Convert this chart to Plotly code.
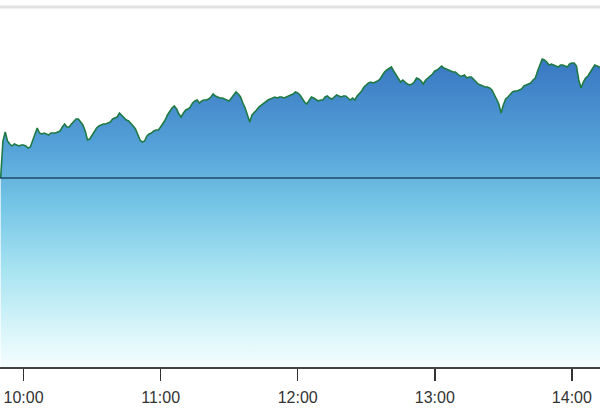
import pandas as pd
import plotly.graph_objects as go

# Intraday index level, one reading per minute starting 09:50
start_time = "2024-01-02 09:50"
prev_close = 2000
prices = [
    2000, 2037, 2046, 2037, 2034, 2032, 2034, 2033, 2032, 2033,
    2033, 2032, 2030, 2031, 2037, 2044, 2050, 2045, 2044, 2045,
    2044, 2043, 2045, 2045, 2045, 2046, 2047, 2051, 2054, 2051,
    2051, 2054, 2057, 2059, 2059, 2056, 2053, 2047, 2038, 2039,
    2043, 2047, 2050, 2052, 2053, 2054, 2054, 2055, 2056, 2059,
    2060, 2061, 2065, 2063, 2060, 2058, 2057, 2055, 2052, 2049,
    2043, 2038, 2036, 2037, 2042, 2044, 2045, 2047, 2048, 2048,
    2051, 2054, 2058, 2063, 2067, 2070, 2072, 2069, 2064, 2061,
    2065, 2068, 2069, 2071, 2075, 2077, 2078, 2075, 2077, 2078,
    2078, 2079, 2081, 2084, 2082, 2081, 2080, 2080, 2079, 2078,
    2077, 2080, 2083, 2086, 2084, 2081, 2075, 2070, 2063, 2056,
    2063, 2065, 2068, 2071, 2073, 2075, 2077, 2078, 2079, 2080,
    2081, 2080, 2081, 2081, 2080, 2081, 2082, 2083, 2084, 2086,
    2085, 2083, 2079, 2076, 2074, 2078, 2081, 2080, 2078, 2077,
    2078, 2078, 2081, 2082, 2080, 2079, 2081, 2083, 2082, 2081,
    2082, 2082, 2080, 2078, 2080, 2078, 2082, 2084, 2087, 2091,
    2093, 2095, 2096, 2095, 2096, 2097, 2099, 2103, 2106, 2108,
    2110, 2111, 2107, 2103, 2099, 2096, 2098, 2096, 2094, 2093,
    2094, 2096, 2100, 2099, 2097, 2094, 2098, 2100, 2102, 2104,
    2107, 2108, 2110, 2112, 2110, 2109, 2108, 2107, 2106, 2106,
    2104, 2102, 2102, 2103, 2100, 2101, 2101, 2099, 2096, 2094,
    2093, 2092, 2091, 2091, 2090, 2088, 2084, 2079, 2074, 2065,
    2073, 2079, 2081, 2084, 2086, 2087, 2087, 2088, 2089, 2092,
    2093, 2094, 2095, 2098, 2100, 2107, 2114, 2119, 2118, 2116,
    2113, 2114, 2113, 2112, 2111, 2113, 2113, 2112, 2111, 2114,
    2115, 2115, 2112, 2098, 2090, 2096, 2100, 2102, 2106, 2110,
    2113, 2112, 2111, 2111,
]
times = pd.date_range(start_time, periods=len(prices), freq="1min")

x_range = ["2024-01-02 09:49:43", "2024-01-02 14:12:18"]
y_range = [1811, 2178]
tick_start = "2024-01-02 10:00"

fig = go.Figure()
fig.add_trace(go.Scatter(
    x=times, y=prices, mode="lines",
    line=dict(color="#1e7a44", width=1.6),
    fill="tozeroy",
    fillgradient=dict(
        type="vertical",
        start=y_range[0], stop=y_range[1],
        colorscale=[
            [0.0, "#f4fdfe"],
            [0.10, "#d8f5fa"],
            [0.26, "#a8e3f1"],
            [0.45, "#72c3e5"],
            [0.59, "#56a3d9"],
            [0.82, "#3a7ac3"],
            [1.0, "#2d68b5"],
        ],
    ),
    hoverinfo="skip",
))

fig.add_shape(type="line", xref="paper", yref="y", x0=0, x1=1,
              y0=prev_close, y1=prev_close,
              line=dict(color="#1d4a66", width=1.4), layer="above")
fig.add_shape(type="line", xref="paper", yref="paper", x0=0, x1=1,
              y0=0.981, y1=0.981,
              line=dict(color="#e2e2e2", width=3), layer="above")

fig.update_layout(
    width=600, height=413,
    margin=dict(l=0, r=0, t=0, b=46),
    paper_bgcolor="white", plot_bgcolor="white",
    showlegend=False,
    hovermode=False,
    xaxis=dict(
        type="date", range=x_range,
        tick0=tick_start, dtick=3600000, tickformat="%H:%M",
        ticks="outside", ticklen=12, tickwidth=1.5, tickcolor="#333333",
        showline=True, linecolor="#444444", linewidth=1.5,
        showgrid=False, zeroline=False,
        tickfont=dict(family="Liberation Sans, Arial, sans-serif", size=16, color="#333333"),
        ticklabelstandoff=3,
    ),
    yaxis=dict(
        range=y_range, visible=False, showgrid=False, zeroline=False,
    ),
)

fig.write_html(
    "out.html",
    config={"displayModeBar": False, "staticPlot": True},
    post_script="document.body.style.margin='0';document.body.style.overflow='hidden';",
)
